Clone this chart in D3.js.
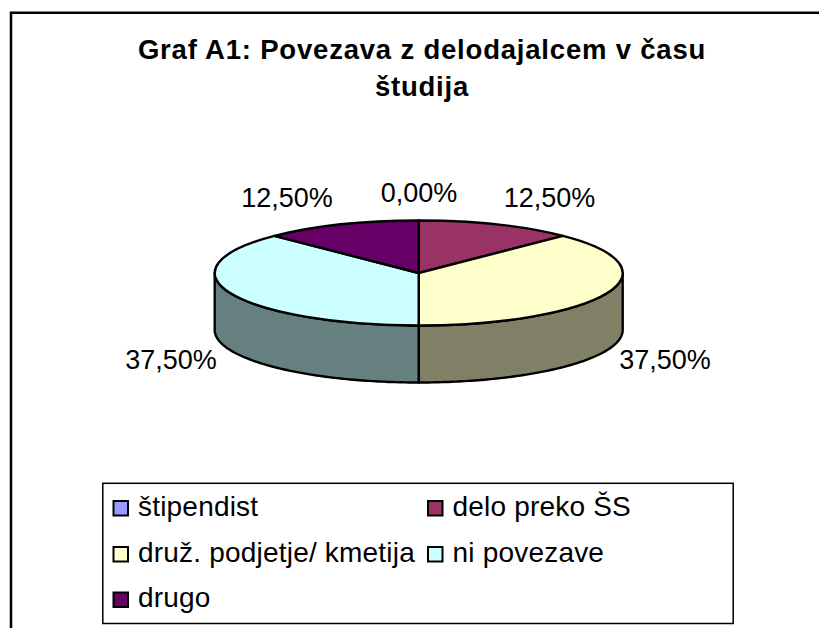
<!DOCTYPE html>
<html><head><meta charset="utf-8">
<script src="https://cdn.jsdelivr.net/npm/d3@7"></script>
<style>html,body{margin:0;padding:0;background:#fff;overflow:hidden}svg{display:block}text{font-family:"Liberation Sans",Arial,sans-serif;fill:#000}</style>
</head><body><svg id="c" width="819" height="628"></svg>
<script>
const categories=["štipendist","delo preko ŠS","druž. podjetje/ kmetija","ni povezave","drugo"];
const values=[0,12.5,37.5,37.5,12.5];
const labels=["0,00%","12,50%","37,50%","37,50%","12,50%"];
const topColors=["#9999ff","#993366","#ffffcc","#ccffff","#660066"];
const sideColors=["#4d4d80","#4d1a33","#808066","#668080","#330033"];
const titleLines=["Graf A1: Povezava z delodajalcem v času","študija"];
const labelPos=[[419,193],[549.5,198],[665,360],[171,360],[287,198]];
const legendPos=[[113.5,501],[428,501],[113.5,547],[428,547],[113.5,592.5]];

const svg=d3.select("#c");
const cx=418.7,cy=273,rx=204,ry=52.5,depth=57;
svg.append("path").attr("d","M11,628V12.7H819").attr("fill","none").attr("stroke","#000").attr("stroke-width",2.5);
svg.selectAll(".t").data(titleLines).join("text").attr("x",422).attr("y",(d,i)=>i?96:59)
 .attr("text-anchor","middle").attr("font-weight","bold").attr("font-size",27.5).attr("letter-spacing",0.8).text(d=>d);

const pie=d3.pie().sort(null).value(d=>d)(values);
const px=a=>cx+rx*Math.sin(a), py=a=>cy-ry*Math.cos(a);
const line=d3.line();
const N=96;
pie.forEach((s,i)=>{
  const a0=Math.max(s.startAngle,Math.PI/2),a1=Math.min(s.endAngle,3*Math.PI/2);
  if(a1<=a0)return;
  const ang=d3.range(N+1).map(k=>a0+(a1-a0)*k/N);
  const pts=ang.map(a=>[px(a),py(a)]).concat(ang.slice().reverse().map(a=>[px(a),py(a)+depth]));
  svg.append("path").attr("d",line(pts)+"Z").attr("fill",sideColors[i]).attr("stroke","#000").attr("stroke-width",2.4).attr("stroke-linejoin","round");
});
const arc=d3.arc().innerRadius(0).outerRadius(rx);
const g=svg.append("g").attr("transform",`translate(${cx},${cy}) scale(1,${ry/rx})`);
g.selectAll("path").data(pie).join("path").attr("d",arc)
 .attr("fill",(d,i)=>topColors[i]).attr("stroke","#000").attr("stroke-width",2.4)
 .attr("vector-effect","non-scaling-stroke").attr("stroke-linejoin","round");

svg.selectAll(".l").data(labels).join("text").attr("x",(d,i)=>labelPos[i][0]).attr("y",(d,i)=>labelPos[i][1])
 .attr("text-anchor","middle").attr("dominant-baseline","central").attr("font-size",27).text(d=>d);

svg.append("rect").attr("x",102.8).attr("y",483.3).attr("width",630.4).attr("height",140.2).attr("fill","#fff").attr("stroke","#000").attr("stroke-width",1.5);
const lg=svg.selectAll(".lg").data(categories).join("g").attr("transform",(d,i)=>`translate(${legendPos[i][0]},${legendPos[i][1]})`);
lg.append("rect").attr("x",0).attr("y",0).attr("width",14.5).attr("height",14.5).attr("fill",(d,i)=>topColors[i]).attr("stroke","#000").attr("stroke-width",2);
lg.append("text").attr("x",24.5).attr("y",14.7).attr("font-size",28).attr("letter-spacing",0.2).text(d=>d);
</script></body></html>
